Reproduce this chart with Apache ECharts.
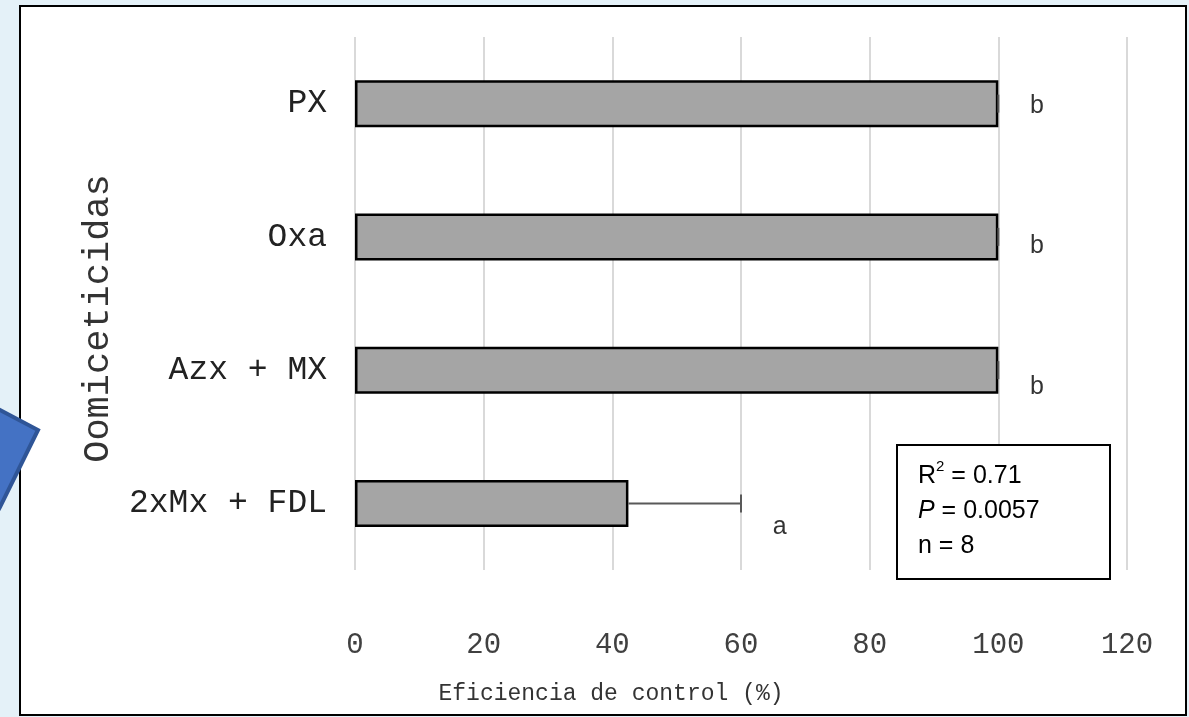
<!DOCTYPE html>
<html>
<head>
<meta charset="utf-8">
<script src="https://cdn.jsdelivr.net/npm/echarts@6/dist/echarts.min.js"></script>
<style>
  html, body { margin: 0; padding: 0; background: #e4f1f8; }
  #Chart { width: 1189px; height: 717px; }
</style>
</head>
<body>
<div id="Chart"></div>
<script>
// datos
var categorias = ['PX', 'Oxa', 'Azx + MX', '2xMx + FDL'];
var eficiencia = [100, 100, 100, 42.5];
var errorSup = [0, 0, 0, 17.5];
var letras = ['b', 'b', 'b', 'a'];
var letraX = [106, 106, 106, 66];
var ticksX = [0, 20, 40, 60, 80, 100, 120];

var mono = '"Liberation Mono", "DejaVu Sans Mono", monospace';
var sans = '"Liberation Sans", Arial, sans-serif';
var gridColor = '#d9d9d9';

var Chart = function () {
    var myChart = echarts.init(document.getElementById('Chart'));

    // desplazamiento vertical de las letras respecto al centro de la barra
    var letraDy = [2, 9, 17, 24];

    var option = {
        backgroundColor: '#e4f1f8',
        animation: false,
        graphic: [
            {
                type: 'rect', z: -10,
                shape: { x: 20, y: 6, width: 1166, height: 709 },
                style: { fill: '#fff', stroke: '#000', lineWidth: 2 }
            },
            {
                type: 'polygon', z: 100,
                shape: { points: [[-40, 389], [38, 430], [0, 507], [-40, 580]] },
                style: { fill: '#4472c4', stroke: '#2f5597', lineWidth: 4 }
            },
            {
                type: 'rect', z: 50,
                shape: { x: 897, y: 445, width: 213, height: 134 },
                style: { fill: '#fff', stroke: '#000', lineWidth: 2 }
            },
            {
                type: 'text', z: 51, left: 918, top: 459,
                style: {
                    text: '{n|R}{sup|2}{n| = 0.71}\n{i|P}{n| = 0.0057}\n{n|n = 8}',
                    fill: '#000',
                    lineHeight: 35,
                    rich: {
                        n: { fontFamily: sans, fontSize: 25, lineHeight: 35, fill: '#000' },
                        i: { fontFamily: sans, fontSize: 25, fontStyle: 'italic', lineHeight: 35, fill: '#000' },
                        sup: { fontFamily: sans, fontSize: 15, verticalAlign: 'top', lineHeight: 35, padding: [0, 0, 12, 0], fill: '#000' }
                    }
                }
            }
        ],
        grid: {
            left: 355,
            right: 62,
            top: 37,
            bottom: 147
        },
        xAxis: {
            type: 'value',
            min: 0,
            max: 120,
            interval: 20,
            name: 'Eficiencia de control (%)',
            nameLocation: 'middle',
            nameGap: 112,
            nameTextStyle: { fontFamily: mono, fontSize: 23, color: '#333', padding: [0, 260, 0, 0] },
            axisLine: { show: false },
            axisTick: { show: false },
            axisLabel: {
                margin: 61,
                fontFamily: mono,
                fontSize: 29,
                color: '#404040',
                formatter: function (v) { return ticksX.indexOf(v) >= 0 ? String(v) : ''; }
            },
            splitLine: { show: true, lineStyle: { color: gridColor, width: 2 } }
        },
        yAxis: {
            type: 'category',
            data: categorias,
            inverse: true,
            name: 'Oomiceticidas',
            nameLocation: 'middle',
            nameGap: 238,
            nameRotate: 90,
            nameTextStyle: { fontFamily: mono, fontSize: 37, color: '#333', padding: [0, 30, 0, 0] },
            axisLine: { show: false },
            axisTick: { show: false },
            axisLabel: { margin: 28, fontFamily: mono, fontSize: 33, color: '#222' }
        },
        series: [
            {
                name: 'Eficiencia',
                type: 'bar',
                barWidth: 47,
                itemStyle: { color: '#a5a5a5', borderColor: '#000', borderWidth: 2.5 },
                data: eficiencia,
                z: 2
            },
            {
                name: 'Error',
                type: 'custom',
                z: 3,
                data: eficiencia.map(function (v, i) { return [v, i, v + errorSup[i]]; }),
                encode: { x: [0, 2], y: 1 },
                renderItem: function (params, api) {
                    var ini = api.coord([api.value(0), api.value(1)]);
                    var fin = api.coord([api.value(2), api.value(1)]);
                    var h = 9;
                    return {
                        type: 'group',
                        children: [
                            { type: 'line', shape: { x1: ini[0], y1: ini[1], x2: fin[0], y2: fin[1] }, style: { stroke: '#595959', lineWidth: 2 } },
                            { type: 'line', shape: { x1: fin[0], y1: fin[1] - h, x2: fin[0], y2: fin[1] + h }, style: { stroke: '#595959', lineWidth: 2 } }
                        ]
                    };
                }
            },
            {
                name: 'Letras',
                type: 'scatter',
                symbolSize: 0,
                z: 4,
                data: letras.map(function (l, i) {
                    return {
                        value: [letraX[i], categorias[i]],
                        label: { offset: [0, letraDy[i]] }
                    };
                }),
                label: {
                    show: true,
                    position: 'inside',
                    fontFamily: sans,
                    fontSize: 25,
                    color: '#000',
                    formatter: function (p) { return letras[p.dataIndex]; }
                }
            }
        ]
    };
    myChart.setOption(option);
};

Chart();
</script>
</body>
</html>
